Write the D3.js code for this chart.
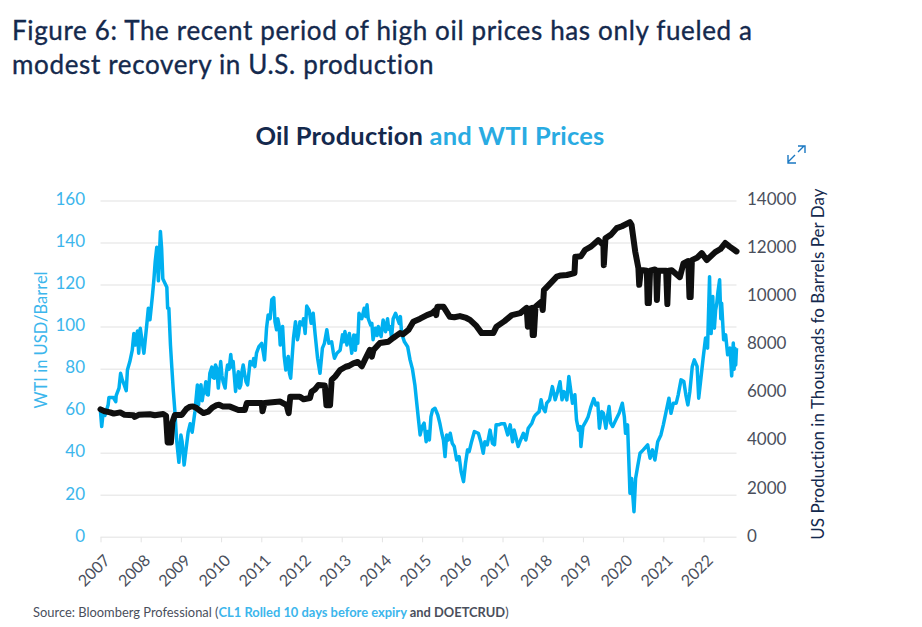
<!DOCTYPE html>
<html><head><meta charset="utf-8">
<script src="https://cdn.jsdelivr.net/npm/d3@7"></script>
<style>
html,body{margin:0;padding:0;background:#fff;}
svg{display:block;font-family:Lato,sans-serif;}
</style></head><body><svg id="c" width="922" height="627"></svg>
<script>
const yearTicks=[2007,2008,2009,2010,2011,2012,2013,2014,2015,2016,2017,2018,2019,2020,2021,2022];
const wtiTicks=[0,20,40,60,80,100,120,140,160];
const prodTicks=[0,2000,4000,6000,8000,10000,12000,14000];
const wtiYears=[2007.00,2007.03,2007.06,2007.11,2007.19,2007.21,2007.32,2007.38,2007.39,2007.46,2007.50,2007.54,2007.59,2007.64,2007.67,2007.73,2007.79,2007.83,2007.87,2007.92,2007.95,2007.99,2008.03,2008.08,2008.15,2008.19,2008.23,2008.29,2008.33,2008.36,2008.40,2008.44,2008.49,2008.52,2008.55,2008.60,2008.65,2008.67,2008.70,2008.74,2008.77,2008.81,2008.85,2008.89,2008.95,2009.00,2009.03,2009.08,2009.12,2009.18,2009.23,2009.28,2009.35,2009.41,2009.44,2009.47,2009.50,2009.53,2009.55,2009.59,2009.62,2009.65,2009.68,2009.72,2009.77,2009.80,2009.83,2009.86,2009.89,2009.93,2009.96,2009.99,2010.02,2010.05,2010.10,2010.13,2010.16,2010.20,2010.24,2010.27,2010.30,2010.36,2010.39,2010.43,2010.46,2010.49,2010.52,2010.55,2010.59,2010.62,2010.66,2010.69,2010.72,2010.78,2010.81,2010.84,2010.88,2010.94,2011.01,2011.05,2011.08,2011.13,2011.17,2011.22,2011.26,2011.31,2011.34,2011.38,2011.41,2011.44,2011.47,2011.50,2011.53,2011.57,2011.61,2011.64,2011.67,2011.70,2011.73,2011.80,2011.85,2011.90,2011.93,2011.96,2012.02,2012.05,2012.09,2012.13,2012.19,2012.24,2012.29,2012.34,2012.40,2012.46,2012.52,2012.57,2012.63,2012.68,2012.75,2012.79,2012.82,2012.88,2012.96,2013.02,2013.05,2013.08,2013.13,2013.16,2013.19,2013.25,2013.30,2013.34,2013.37,2013.40,2013.43,2013.50,2013.56,2013.60,2013.63,2013.66,2013.72,2013.75,2013.78,2013.84,2013.88,2013.91,2013.98,2014.03,2014.09,2014.14,2014.17,2014.20,2014.24,2014.28,2014.34,2014.43,2014.46,2014.49,2014.56,2014.64,2014.70,2014.76,2014.82,2014.86,2014.91,2014.95,2015.00,2015.05,2015.10,2015.14,2015.18,2015.22,2015.26,2015.32,2015.39,2015.44,2015.49,2015.53,2015.57,2015.61,2015.65,2015.70,2015.75,2015.80,2015.86,2015.92,2015.97,2016.03,2016.08,2016.13,2016.17,2016.23,2016.30,2016.40,2016.46,2016.52,2016.56,2016.62,2016.69,2016.75,2016.80,2016.84,2016.90,2016.96,2017.05,2017.13,2017.19,2017.25,2017.29,2017.35,2017.39,2017.45,2017.52,2017.58,2017.64,2017.73,2017.79,2017.82,2017.91,2017.96,2017.99,2018.06,2018.10,2018.17,2018.24,2018.31,2018.37,2018.43,2018.48,2018.53,2018.60,2018.65,2018.74,2018.80,2018.84,2018.89,2018.93,2018.95,2019.00,2019.07,2019.13,2019.20,2019.27,2019.32,2019.37,2019.41,2019.47,2019.51,2019.57,2019.61,2019.65,2019.69,2019.74,2019.82,2019.90,2019.98,2020.03,2020.06,2020.11,2020.15,2020.17,2020.21,2020.27,2020.31,2020.36,2020.42,2020.50,2020.61,2020.67,2020.73,2020.79,2020.86,2020.94,2021.00,2021.06,2021.14,2021.19,2021.25,2021.32,2021.37,2021.44,2021.51,2021.56,2021.61,2021.66,2021.72,2021.77,2021.84,2021.88,2021.94,2021.99,2022.05,2022.10,2022.15,2022.17,2022.19,2022.21,2022.23,2022.25,2022.27,2022.30,2022.33,2022.36,2022.40,2022.43,2022.45,2022.50,2022.55,2022.60,2022.66,2022.70,2022.74,2022.76,2022.78,2022.80,2022.82];
const wtiValues=[59.8,52.7,58.2,58,63,66.5,66.5,64.5,67.4,71,78,75,72.5,69.8,79.6,83.6,89,97,91.5,98.2,87.6,99.5,94,87.6,101,109,103.5,114.6,123,131,138,122,145.5,137.6,123,121,119,109,109,91.5,82,70,60,47,35.7,48.7,45.5,34.4,40.7,50,54,50,60,72.5,63,71,72.5,65,67.7,70,74,68,67.7,78,81,76,75.7,82,80.5,71,77,83.6,77,74,71,78,82,80,87,81,83.6,69.4,75,78.8,71,72.5,79,82,77.2,74,72.5,78,83.6,82,85,81.2,87.6,90.7,92.3,88,84.4,99.5,105.8,104,113,114,102.6,98.7,104,101,91.5,97,100.3,86,79.6,84,86,78,75.7,94.7,102.6,94,97,102.6,101,104,97,110,108,101.8,106.6,96.3,85.2,78,90,92.3,98.7,92.3,93,88,85.2,87.6,89,96.3,93,97.9,91.5,95,97,87.6,96.3,89,96.3,92.3,106.6,104,109,105,110.6,104,101,101.8,94,99.5,96,100.3,95.5,103.4,97.8,104,99,100.3,95,104,106.6,101.8,105,97,93,90.7,84.4,80,72.5,65,55.9,48.7,52.7,54.3,45.5,50.3,46.3,57.4,60.6,61.4,58.2,54.3,49.5,46.3,38.4,48.7,46.3,49.5,44.7,43.2,36.8,38.4,31.3,26.5,35.2,41.6,40.8,45.5,50.3,49.5,45.5,40,45.5,44,51,44.7,44,53.5,53.5,54,54,48.7,53.5,45.5,51,46.3,43.2,46.3,49.5,46.3,51.9,54.3,57.4,58.2,59.8,65.4,62.2,59.8,63.8,65.4,71.7,65.4,69.3,74,65.4,69.3,65.4,76.5,63.8,67.8,55.9,51,52.7,43.2,52.7,55,57.4,62.2,66,63,63.8,51.9,59.8,59,51.9,57.4,62.2,54.3,52.7,55.9,59,63.8,57.4,49.5,53.5,32,21,28,12.2,28,33.6,40,41.6,44,37.6,41.6,36.8,45.5,48.7,53.5,59,66.2,59,63.8,63.8,67.8,74.9,74.1,67.8,63,69.4,81.3,84.4,81.3,66.2,76.5,85.2,94.8,90,124,100,97,112,114.6,101,99.5,108,111.4,117,122.5,104,111.4,94,96.3,86.8,90,76.8,92.4,80,90,82,90];
const prodYears=[2007.00,2007.08,2007.24,2007.33,2007.49,2007.60,2007.82,2007.85,2007.95,2008.23,2008.35,2008.56,2008.63,2008.67,2008.75,2008.79,2008.85,2009.02,2009.14,2009.23,2009.30,2009.39,2009.45,2009.56,2009.68,2009.78,2009.89,2009.95,2010.05,2010.22,2010.43,2010.59,2010.64,2011.01,2011.03,2011.08,2011.47,2011.63,2011.68,2011.72,2011.96,2012.05,2012.21,2012.25,2012.33,2012.42,2012.58,2012.62,2012.71,2012.75,2012.84,2012.96,2013.10,2013.17,2013.29,2013.40,2013.50,2013.58,2013.70,2013.75,2013.79,2013.95,2014.16,2014.28,2014.45,2014.52,2014.66,2014.78,2014.95,2015.12,2015.25,2015.33,2015.35,2015.38,2015.53,2015.69,2015.80,2015.94,2016.10,2016.19,2016.35,2016.48,2016.77,2016.85,2017.05,2017.23,2017.44,2017.60,2017.63,2017.66,2017.73,2017.75,2017.78,2017.82,2017.97,2018.00,2018.03,2018.15,2018.35,2018.45,2018.60,2018.79,2018.81,2018.84,2018.95,2019.05,2019.20,2019.38,2019.51,2019.52,2019.56,2019.70,2019.84,2019.97,2020.17,2020.21,2020.30,2020.38,2020.40,2020.44,2020.50,2020.59,2020.61,2020.64,2020.67,2020.79,2020.82,2020.84,2020.87,2021.07,2021.10,2021.13,2021.21,2021.41,2021.50,2021.62,2021.65,2021.68,2021.71,2021.85,2021.955,2022.08,2022.29,2022.42,2022.54,2022.65,2022.77,2022.82];
const prodValues=[5328,5260,5203,5150,5200,5100,5080,5010,5100,5120,5080,5130,5060,3950,3950,4800,5090,5090,5350,5440,5450,5380,5300,5170,5230,5400,5500,5520,5440,5440,5300,5300,5590,5590,5250,5590,5650,5500,5170,5850,5850,5745,5800,6060,6150,6340,6320,5500,5500,6550,6700,6965,7100,7130,7240,7300,7120,7400,7800,7520,7800,8090,8140,8300,8500,8450,8630,8975,9100,9250,9330,9460,9250,9600,9600,9180,9160,9210,9130,9050,8800,8500,8500,8770,9000,9250,9330,9550,8770,9500,9550,8420,8420,9600,9810,9460,10290,10500,10850,10900,10920,11000,11680,11680,11700,11960,12100,12370,12160,11330,12450,12600,12870,12950,13120,13000,11900,11200,10510,11120,11120,11100,9750,9750,11100,11150,11100,9880,11100,11100,9710,11100,11120,10830,11400,11500,10000,10000,11540,11650,11830,11540,11870,12000,12250,12100,11960,11900];
const titleLines=["Figure 6: The recent period of high oil prices has only fueled a","modest recovery in U.S. production"];

const svg=d3.select("#c");
const NAVY="#14294d",SKY="#29abe2",TICKSKY="#3cb6ec",GRAY="#4a4f5c";
const x=d3.scaleLinear().domain([2007,2022.82]).range([100.5,736.5]);
const yL=d3.scaleLinear().domain([0,160]).range([537.3,201]);
const yR=d3.scaleLinear().domain([0,14000]).range([537.3,201]);

svg.selectAll("text.t").data(titleLines).join("text").attr("class","t")
 .attr("x",12).attr("y",(d,i)=>[40,74][i]).attr("fill",NAVY).attr("stroke",NAVY).attr("stroke-width",0.35)
 .style("font-size","26px").style("letter-spacing","0.65px").text(d=>d);

const h=svg.append("text").attr("x",430).attr("y",145).attr("text-anchor","middle").style("font-size","25.5px").style("font-weight","700").style("letter-spacing","0.2px");
h.append("tspan").attr("fill",NAVY).text("Oil Production ");
h.append("tspan").attr("fill",SKY).text("and WTI Prices");

// grid
svg.append("g").selectAll("line").data(wtiTicks).join("line")
 .attr("x1",100.5).attr("x2",736.5).attr("y1",d=>yL(d)).attr("y2",d=>yL(d))
 .attr("stroke","#ebebeb").attr("stroke-width",1.5);

// x axis
const gx=svg.append("g").attr("transform","translate(0,537.3)")
 .call(d3.axisBottom(x).tickValues(yearTicks).tickFormat(d3.format("d")).tickSize(5).tickSizeOuter(0));
gx.select(".domain").remove();
gx.selectAll(".tick line").attr("stroke","#e3e3e3");
gx.selectAll(".tick text").attr("fill",GRAY).style("font-size","16px").style("font-family","Lato,sans-serif")
 .attr("text-anchor","end").attr("transform","translate(2,16) rotate(-45)").attr("x",0).attr("y",0).attr("dy","0.71em");

// y axes
const gl=svg.append("g").attr("transform","translate(85,0)")
 .call(d3.axisLeft(yL).tickValues(wtiTicks).tickSize(0).tickPadding(0).tickFormat(d3.format("d")));
gl.select(".domain").remove();
gl.selectAll("text").attr("fill",TICKSKY).style("font-size","17px").style("font-family","Lato,sans-serif").attr("dy","0.22em");
const gr=svg.append("g").attr("transform","translate(747,0)")
 .call(d3.axisRight(yR).tickValues(prodTicks).tickSize(0).tickPadding(0).tickFormat(d3.format("d")));
gr.select(".domain").remove();
gr.selectAll("text").attr("fill",GRAY).style("font-size","17px").style("font-family","Lato,sans-serif").attr("dy","0.22em");

svg.append("text").attr("transform","translate(47,340) rotate(-90)").attr("text-anchor","middle")
 .attr("fill",TICKSKY).style("font-size","16.5px").text("WTI in USD/Barrel");
svg.append("text").attr("transform","translate(824,364) rotate(-90)").attr("text-anchor","middle")
 .attr("fill",NAVY).style("font-size","17px").style("letter-spacing","0.05px").text("US Production in Thousnads fo Barrels Per Day");

// lines
const lw=d3.line().x(d=>x(d[0])).y(d=>yL(d[1]));
const lp=d3.line().x(d=>x(d[0])).y(d=>yR(d[1]));
svg.append("path").datum(d3.zip(wtiYears,wtiValues)).attr("d",lw).attr("fill","none")
 .attr("stroke","#00b0f0").attr("stroke-width",3.5).attr("stroke-linejoin","round");
svg.append("path").datum(d3.zip(prodYears,prodValues)).attr("d",lp).attr("fill","none")
 .attr("stroke","#0f0f0f").attr("stroke-width",6).attr("stroke-linejoin","round").attr("stroke-linecap","round");

// expand icon
svg.append("path").attr("d","M788 162 L795 155 M798 152 L804 146 M798 146 H805 V153 M788 155 V163 H796")
 .attr("fill","none").attr("stroke","#1a78c2").attr("stroke-width",1.4);

// source
const s=svg.append("text").attr("x",33).attr("y",617).style("font-size","12.9px");
s.append("tspan").attr("fill",GRAY).text("Source: Bloomberg Professional (");
s.append("tspan").attr("fill",TICKSKY).style("font-weight","700").text("CL1 Rolled 10 days before expiry");
s.append("tspan").attr("fill",GRAY).style("font-weight","700").text(" and DOETCRUD");
s.append("tspan").attr("fill",GRAY).text(")");
</script></body></html>
